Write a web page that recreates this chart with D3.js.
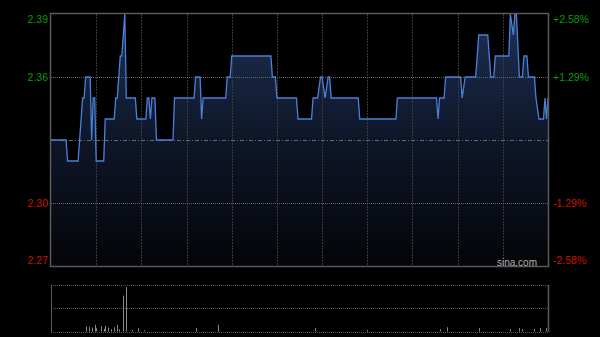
<!DOCTYPE html>
<html>
<head>
<meta charset="utf-8">
<script src="https://cdn.jsdelivr.net/npm/d3@7"></script>
<style>
  html, body { margin: 0; padding: 0; background: #000; }
  svg { display: block; }
</style>
</head>
<body>
<div id="chart"></div>
<script>
// price samples: minute of session (0..330) and price
const priceMinutes = [0, 10, 11, 18, 21, 22, 23, 26, 27, 28, 29, 30, 35, 36, 42, 43, 44, 46, 47, 49, 50, 56, 57, 63, 64, 65, 66, 67, 69, 70, 81, 82, 95, 96, 99, 100, 101, 116, 117, 119, 120, 146, 147, 149, 150, 163, 164, 173, 174, 177, 179, 180, 182, 184, 185, 186, 204, 205, 229, 230, 256, 257, 258, 261, 262, 272, 273, 275, 282, 284, 290, 292, 294, 295, 304, 305, 307, 308, 309, 311, 313, 314, 316, 317, 321, 322, 324, 327, 328, 329, 330];
const priceValues = [2.33, 2.33, 2.32, 2.32, 2.35, 2.35, 2.36, 2.36, 2.33, 2.35, 2.35, 2.32, 2.32, 2.34, 2.34, 2.35, 2.35, 2.37, 2.37, 2.39, 2.35, 2.35, 2.34, 2.34, 2.35, 2.35, 2.34, 2.35, 2.35, 2.33, 2.33, 2.35, 2.35, 2.36, 2.36, 2.34, 2.35, 2.35, 2.36, 2.36, 2.37, 2.37, 2.36, 2.36, 2.35, 2.35, 2.34, 2.34, 2.35, 2.35, 2.36, 2.36, 2.35, 2.36, 2.36, 2.35, 2.35, 2.34, 2.34, 2.35, 2.35, 2.34, 2.35, 2.35, 2.36, 2.36, 2.35, 2.36, 2.36, 2.38, 2.38, 2.36, 2.36, 2.37, 2.37, 2.39, 2.38, 2.39, 2.39, 2.36, 2.36, 2.37, 2.37, 2.36, 2.36, 2.35, 2.34, 2.34, 2.35, 2.34, 2.35];

// volume bars
const volMinutes = [23, 25, 27, 29, 30, 33, 35, 36, 38, 40, 42, 44, 45, 48, 50, 54, 58, 62, 96, 111, 175, 210, 258, 263, 284, 305, 311, 313, 321, 325, 329];
const volValues = [107, 107, 86, 143, 71, 107, 58, 122, 86, 50, 92, 143, 49, 771, 957, 32, 71, 28, 71, 143, 71, 32, 50, 92, 71, 50, 71, 50, 60, 71, 71];

// axis labels
const prevClose = 2.33;
const leftTicks = [2.39, 2.36, 2.30, 2.27];
const rightTicks = ["+2.58%", "+1.29%", "-1.29%", "-2.58%"];
const gridMinutes = [30, 60, 90, 120, 150, 180, 210, 240, 270, 300];

const svg = d3.select("#chart")
    .append("svg")
    .attr("width", 600)
    .attr("height", 337)
    .style("background", "#000");

const plotLeft = 51, plotRight = 548, plotTop = 14, plotBottom = 266;

const x = d3.scaleLinear().domain([0, 330]).range([plotLeft, plotRight]);
const y = d3.scaleLinear().domain([2.27, 2.39]).range([plotBottom, plotTop]);

const data = priceMinutes.map((m, i) => ({ m: m, p: priceValues[i] }));

// gradient for area
const defs = svg.append("defs");
const grad = defs.append("linearGradient")
    .attr("id", "fillGrad")
    .attr("gradientUnits", "userSpaceOnUse")
    .attr("x1", 0).attr("y1", plotTop)
    .attr("x2", 0).attr("y2", plotBottom);
grad.append("stop").attr("offset", "0%").attr("stop-color", "#1e3054");
grad.append("stop").attr("offset", "50%").attr("stop-color", "#0e1628");
grad.append("stop").attr("offset", "100%").attr("stop-color", "#040508");

// area
svg.append("path")
    .datum(data)
    .attr("fill", "url(#fillGrad)")
    .attr("d", d3.area().x(d => x(d.m)).y0(plotBottom).y1(d => y(d.p)));

// vertical grid
svg.append("g")
    .selectAll("line")
    .data(gridMinutes)
    .join("line")
    .attr("x1", d => Math.round(x(d)) + 0.5)
    .attr("x2", d => Math.round(x(d)) + 0.5)
    .attr("y1", plotTop)
    .attr("y2", plotBottom)
    .attr("stroke", "#3a3a3a")
    .attr("stroke-dasharray", "2,1");

// horizontal grid
svg.append("g")
    .selectAll("line")
    .data([2.36, 2.30])
    .join("line")
    .attr("x1", plotLeft)
    .attr("x2", plotRight)
    .attr("y1", d => Math.round(y(d)) + 0.5)
    .attr("y2", d => Math.round(y(d)) + 0.5)
    .attr("stroke", "#666")
    .attr("stroke-dasharray", "1,1");

// previous close line
svg.append("line")
    .attr("x1", plotLeft)
    .attr("x2", plotRight)
    .attr("y1", Math.round(y(prevClose)) + 0.5)
    .attr("y2", Math.round(y(prevClose)) + 0.5)
    .attr("stroke", "#6a6a6a")
    .attr("stroke-width", 1.2)
    .attr("stroke-dasharray", "4,2,1,2");

// price line
svg.append("path")
    .datum(data)
    .attr("fill", "none")
    .attr("stroke", "#4a80d8")
    .attr("stroke-width", 1.3)
    .attr("d", d3.line().x(d => x(d.m)).y(d => y(d.p)));

// frame
svg.append("rect")
    .attr("x", plotLeft - 0.5)
    .attr("y", plotTop - 0.5)
    .attr("width", plotRight - plotLeft + 1)
    .attr("height", plotBottom - plotTop + 1)
    .attr("fill", "none")
    .attr("stroke", "#5a5a5a")
    .attr("stroke-width", 1.5);

// left labels
const labelColor = d => d > prevClose ? "#0a9a0a" : "#cc1100";
const shift = i => i === 0 ? 5 : (i === leftTicks.length - 1 ? -6 : 0);
svg.append("g")
    .selectAll("text")
    .data(leftTicks)
    .join("text")
    .attr("x", 48)
    .attr("y", (d, i) => y(d) + shift(i))
    .attr("dy", "0.35em")
    .attr("text-anchor", "end")
    .attr("fill", labelColor)
    .style("font-family", "'Liberation Sans', Arial, sans-serif")
    .style("font-size", "10.5px")
    .text(d => d.toFixed(2));

// right labels
svg.append("g")
    .selectAll("text")
    .data(rightTicks)
    .join("text")
    .attr("x", 553)
    .attr("y", (d, i) => y(leftTicks[i]) + shift(i))
    .attr("dy", "0.35em")
    .attr("text-anchor", "start")
    .attr("fill", (d, i) => labelColor(leftTicks[i]))
    .style("font-family", "'Liberation Sans', Arial, sans-serif")
    .style("font-size", "10.5px")
    .text(d => d);

// watermark
svg.append("text")
    .attr("x", 537)
    .attr("y", 262)
    .attr("dy", "0.35em")
    .attr("text-anchor", "end")
    .attr("fill", "#b0b0b0")
    .style("font-family", "'Liberation Sans', Arial, sans-serif")
    .style("font-size", "10px")
    .text("sina.com");

// volume panel
const vTop = 285, vBottom = 331.5;
const yVol = d3.scaleLinear().domain([0, 1000]).range([vBottom, vTop]);

svg.append("g")
    .selectAll("line")
    .data([vTop, (vTop + vBottom) / 2, vBottom])
    .join("line")
    .attr("x1", plotLeft)
    .attr("x2", plotRight)
    .attr("y1", d => Math.round(d) + 0.5)
    .attr("y2", d => Math.round(d) + 0.5)
    .attr("stroke", "#555")
    .attr("stroke-dasharray", "1,1");

svg.append("line")
    .attr("x1", plotLeft + 0.5).attr("x2", plotLeft + 0.5)
    .attr("y1", vTop).attr("y2", vBottom + 0.5)
    .attr("stroke", "#5a5a5a");
svg.append("line")
    .attr("x1", plotRight + 0.5).attr("x2", plotRight + 0.5)
    .attr("y1", vTop).attr("y2", vBottom + 0.5)
    .attr("stroke", "#5a5a5a")
    .attr("stroke-width", 1.5);

svg.append("g")
    .selectAll("line")
    .data(volMinutes.map((m, i) => ({ m: m, v: volValues[i] })))
    .join("line")
    .attr("x1", d => Math.round(x(d.m)) + 0.5)
    .attr("x2", d => Math.round(x(d.m)) + 0.5)
    .attr("y1", vBottom)
    .attr("y2", d => yVol(d.v))
    .attr("stroke", "#8a8a8a");
</script>
</body>
</html>
